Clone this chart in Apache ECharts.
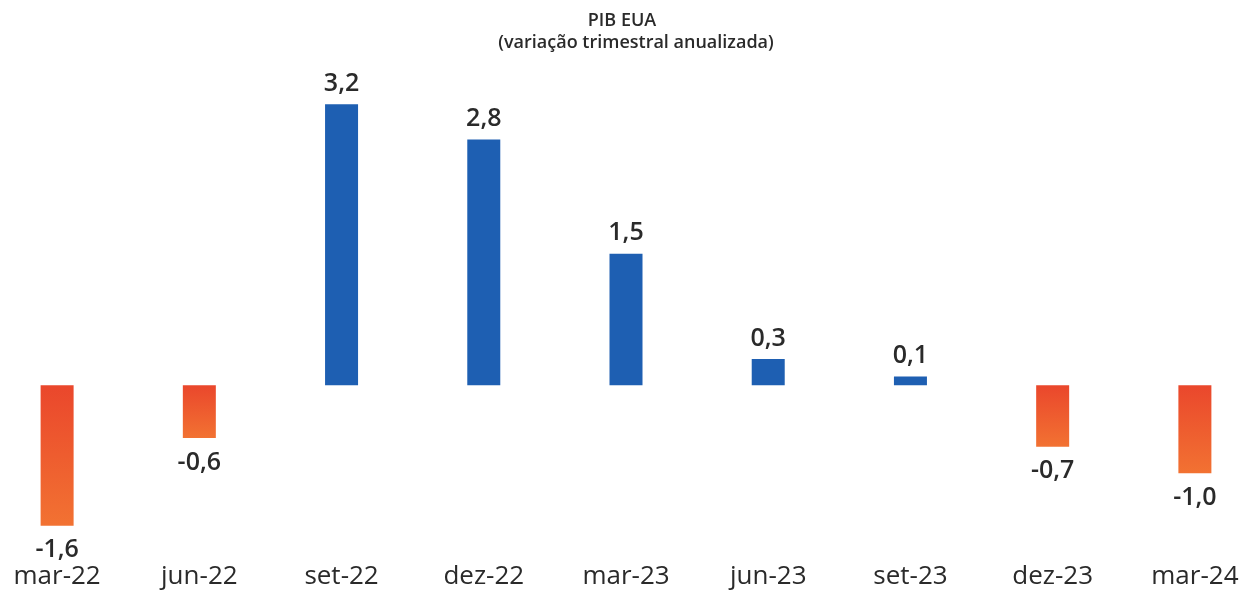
<!DOCTYPE html>
<html>
<head>
<meta charset="utf-8">
<script src="https://cdn.jsdelivr.net/npm/echarts@6/dist/echarts.min.js"></script>
<style>
  html, body { margin: 0; padding: 0; background: #fff; }
  #main { width: 1258px; height: 591px; }
</style>
</head>
<body>
<div id="main"></div>
<script>
const categories = ['mar-22', 'jun-22', 'set-22', 'dez-22', 'mar-23', 'jun-23', 'set-23', 'dez-23', 'mar-24']
const pibValues = [-1.6, -0.6, 3.2, 2.8, 1.5, 0.3, 0.1, -0.7, -1.0]

const blue = '#1e5fb2'
const redOrange = {
    type: 'linear', x: 0, y: 0, x2: 0, y2: 1,
    colorStops: [{ offset: 0, color: '#ea472c' }, { offset: 1, color: '#f27232' }]
}
const textColor = '#2a2a2a'

let myChart = echarts.init(document.getElementById('main'))

// cada barra recebe cor e posição do rótulo conforme o sinal
let barData = pibValues.map(function (v) {
    return {
        value: v,
        itemStyle: { color: v < 0 ? redOrange : blue },
        label: { position: v < 0 ? 'bottom' : 'top', distance: v < 0 ? 12 : 8 }
    }
})

let titleStyle = { fontFamily: 'Open Sans', fontSize: 18, fontWeight: 600, color: textColor }

let options = {
    animation: false,
    title: [
        { text: 'PIB EUA', left: 617, top: 7, textAlign: 'center', textStyle: titleStyle },
        { text: '(variação trimestral anualizada)', left: 631, top: 29, textAlign: 'center', textStyle: titleStyle }
    ],
    // a grade passa um pouco das bordas, como na imagem original
    grid: { left: -14, right: -8, top: 78, bottom: 30, outerBoundsMode: 'none' },
    xAxis: {
        type: 'category',
        data: categories,
        axisLine: { show: false, onZero: false },
        axisTick: { show: false },
        axisLabel: { fontFamily: 'Open Sans', fontSize: 26, color: textColor, margin: 3, interval: 0 }
    },
    yAxis: {
        type: 'value',
        min: -2,
        max: 3.5,
        show: false,
        splitLine: { show: false }
    },
    series: [{
        name: 'PIB',
        type: 'bar',
        barWidth: 33,
        data: barData,
        label: {
            show: true,
            fontFamily: 'Open Sans',
            fontSize: 25,
            fontWeight: 600,
            color: textColor,
            formatter: function (p) { return p.value.toFixed(1).replace('.', ',') }
        }
    }]
}

myChart.setOption(options)
</script>
</body>
</html>
